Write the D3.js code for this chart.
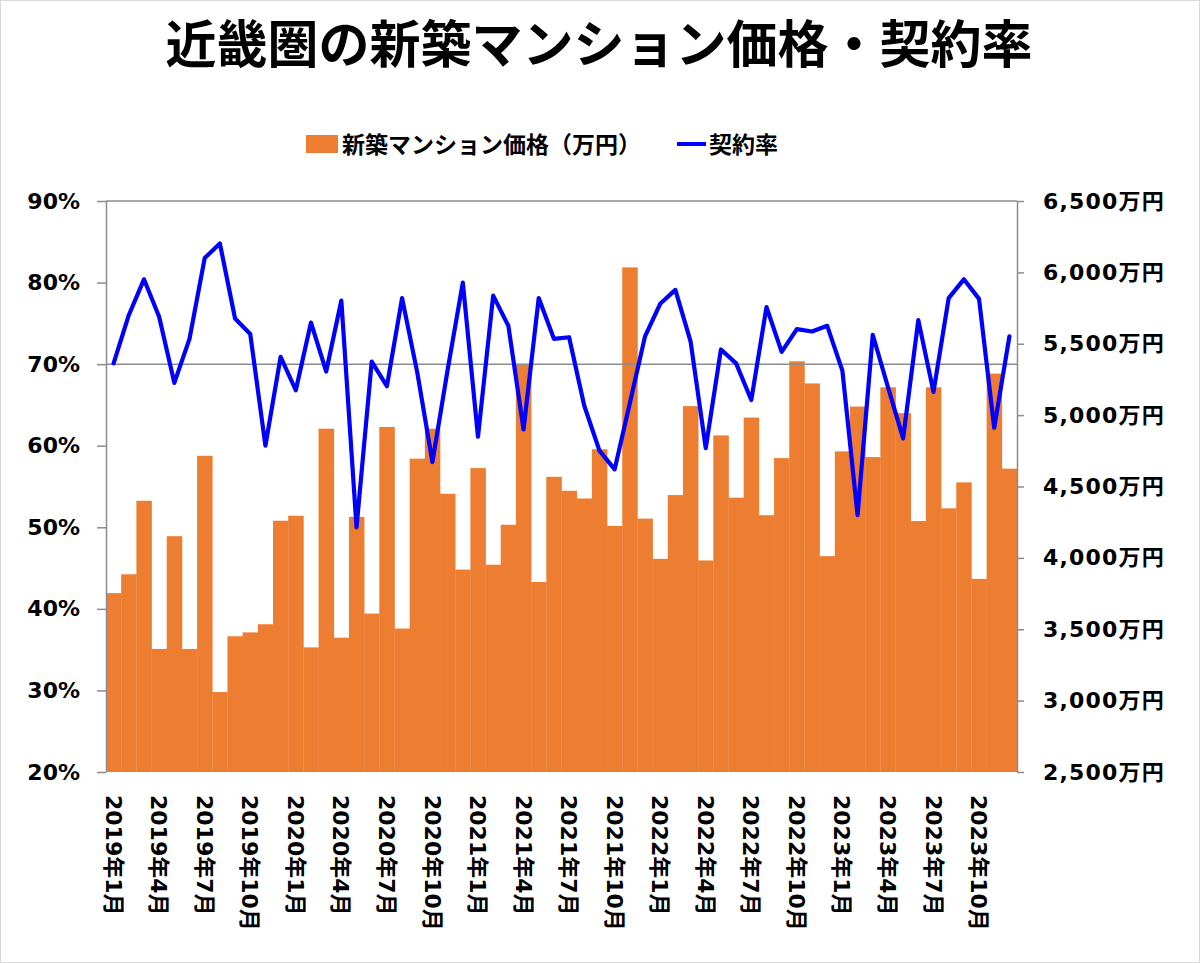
<!DOCTYPE html>
<html>
<head>
<meta charset="utf-8">
<script src="https://cdn.jsdelivr.net/npm/d3@7"></script>
<style>
  html, body { margin: 0; padding: 0; background: #fff; }
  svg { display: block; }
  text { font-family: "DejaVu Sans", "Noto Sans CJK JP", sans-serif; font-weight: bold; fill: #000; }
</style>
</head>
<body>
<svg id="chart" width="1200" height="963"></svg>
<script>
// ---- data ----
const months = [];
for (let y = 2019; y <= 2023; y++) for (let m = 1; m <= 12; m++) months.push(y + "年" + m + "月");

const prices = [
  3753, 3885, 4400, 3362, 4152, 3362, 4715, 3060, 3451, 3478, 3535, 4260,
  4295, 3373, 4905, 3441, 4287, 3610, 4917, 3505, 4695, 4905, 4449, 3918,
  4629, 3952, 4232, 5355, 3831, 4568, 4470, 4416, 4761, 4224, 6035, 4275,
  3993, 4440, 5063, 3982, 4858, 4422, 4983, 4299, 4699, 5377, 5222, 4012,
  4746, 5060, 4706, 5195, 5014, 4258, 5195, 4347, 4529, 3853, 5291, 4625
];
const rates = [
  70.1, 76.0, 80.4, 75.8, 67.7, 73.1, 83.0, 84.8, 75.6, 73.7, 60.0, 70.9,
  66.8, 75.1, 69.1, 77.8, 50.0, 70.3, 67.3, 78.1, 69.0, 58.0, 69.3, 80.0,
  61.1, 78.4, 74.7, 62.0, 78.1, 73.1, 73.3, 64.9, 59.4, 57.1, 65.2, 73.4,
  77.4, 79.1, 72.8, 59.7, 71.8, 70.1, 65.6, 77.0, 71.5, 74.3, 74.0, 74.7,
  69.2, 51.5, 73.6, 67.2, 60.9, 75.4, 66.6, 78.1, 80.4, 78.0, 62.2, 73.4
];
const leftTicks = [20, 30, 40, 50, 60, 70, 80, 90];
const rightTicks = [2500, 3000, 3500, 4000, 4500, 5000, 5500, 6000, 6500];
const xTickLabels = months.filter((d, i) => i % 3 === 0);
const titleText = "近畿圏の新築マンション価格・契約率";
const legendBar = "新築マンション価格（万円）";
const legendLine = "契約率";

// ---- layout ----
const W = 1200, H = 963;
const plot = { left: 106, right: 1017, top: 201, bottom: 772 };
const svg = d3.select("#chart");

svg.append("rect").attr("x", 0.5).attr("y", 0.5).attr("width", W - 1).attr("height", H - 1)
  .attr("fill", "#fff").attr("stroke", "#d9d9d9");

const x = d3.scaleBand().domain(months).range([plot.left, plot.right]).padding(0);
const yL = d3.scaleLinear().domain([20, 90]).range([plot.bottom, plot.top]);
const yR = d3.scaleLinear().domain([2500, 6500]).range([plot.bottom, plot.top]);

const axisColor = "#8c8c8c";

// top border of plot
svg.append("line").attr("x1", plot.left).attr("x2", plot.right).attr("y1", plot.top).attr("y2", plot.top)
  .attr("stroke", axisColor).attr("stroke-width", 1.5);

// bars
svg.append("g").selectAll("rect").data(prices).join("rect")
  .attr("x", (d, i) => x(months[i]))
  .attr("width", x.bandwidth() + 0.3)
  .attr("y", d => yR(d))
  .attr("height", d => yR(2500) - yR(d))
  .attr("fill", "#ED7D31");

// 70% horizontal axis line
svg.append("line").attr("x1", plot.left).attr("x2", plot.right).attr("y1", yL(70)).attr("y2", yL(70))
  .attr("stroke", axisColor).attr("stroke-width", 1.5);

// left axis
const gL = svg.append("g").attr("transform", `translate(${plot.left},0)`)
  .call(d3.axisLeft(yL).tickValues(leftTicks).tickFormat(d => d + "%").tickSize(9).tickPadding(17).tickSizeOuter(0));
gL.selectAll("path, line").attr("stroke", axisColor).attr("stroke-width", 1.5);
gL.selectAll("text").attr("font-size", 22).attr("fill", "#000");

// right axis
const gR = svg.append("g").attr("transform", `translate(${plot.right},0)`)
  .call(d3.axisRight(yR).tickValues(rightTicks).tickFormat(d => d3.format(",")(d) + "万円").tickSize(7).tickPadding(19).tickSizeOuter(0));
gR.selectAll("path, line").attr("stroke", axisColor).attr("stroke-width", 1.5);
gR.selectAll("text").attr("font-size", 22).attr("letter-spacing", 1.2).attr("fill", "#000");

// bottom axis labels (rotated)
const gB = svg.append("g").attr("transform", `translate(0,${plot.bottom})`)
  .call(d3.axisBottom(x).tickValues(xTickLabels).tickSize(0));
gB.select(".domain").remove();
gB.selectAll("text")
  .attr("font-size", 22).attr("fill", "#000")
  .attr("text-anchor", "start")
  .attr("transform", "rotate(90)")
  .attr("x", 23).attr("y", 0).attr("dy", "0.36em");

// line
const line = d3.line().x((d, i) => x(months[i]) + x.bandwidth() / 2).y(d => yL(d));
svg.append("path").datum(rates).attr("d", line)
  .attr("fill", "none").attr("stroke", "#0000FF").attr("stroke-width", 4.2)
  .attr("stroke-linejoin", "round").attr("stroke-linecap", "round");

// title
svg.append("text").attr("x", 599).attr("y", 63).attr("text-anchor", "middle")
  .attr("font-size", 51).style("font-family", "'Noto Sans CJK JP', sans-serif").text(titleText);

// legend
const lg = svg.append("g");
lg.append("rect").attr("x", 306).attr("y", 135).attr("width", 32).attr("height", 18).attr("fill", "#ED7D31");
lg.append("text").attr("x", 342).attr("y", 153).attr("font-size", 23)
  .style("font-family", "'Noto Sans CJK JP', sans-serif").text(legendBar);
lg.append("line").attr("x1", 677).attr("x2", 706).attr("y1", 144).attr("y2", 144)
  .attr("stroke", "#0000FF").attr("stroke-width", 4);
lg.append("text").attr("x", 709).attr("y", 153).attr("font-size", 23)
  .style("font-family", "'Noto Sans CJK JP', sans-serif").text(legendLine);
</script>
</body>
</html>
